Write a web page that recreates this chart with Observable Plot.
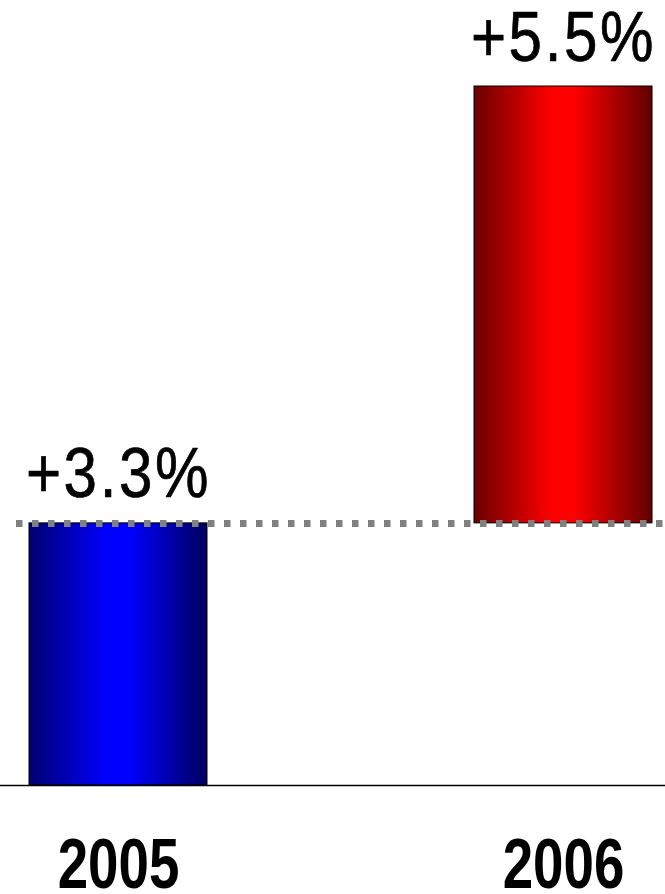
<!DOCTYPE html>
<html>
<head>
<meta charset="utf-8">
<script src="https://cdn.jsdelivr.net/npm/d3@7"></script>
<script src="https://cdn.jsdelivr.net/npm/@observablehq/plot@0.6"></script>
<style>
  html, body { margin: 0; padding: 0; background: #fff; }
  #chart svg { display: block; }
</style>
</head>
<body>
<div id="chart"></div>
<script>
// Data
const years = ["2005", "2006"];
const changes = [3.3, 5.5];
const labels = ["+3.3%", "+5.5%"];

// Waterfall rows
let acc = 0;
const rows = years.map((year, i) => {
  const start = acc;
  acc += changes[i];
  return { year, start, end: acc, label: labels[i] };
});
const total = acc;

const chart = Plot.plot({
  width: 665,
  height: 894,
  marginTop: 86,
  marginBottom: 109,
  marginLeft: 0,
  marginRight: 0,
  style: { fontFamily: "'Liberation Sans', Arial, sans-serif", background: "#fff", color: "#000" },
  x: { type: "band", domain: years, range: [28, 652], paddingInner: 0.6, paddingOuter: 0, axis: null },
  y: { domain: [0, total], nice: false, axis: null },
  marks: [
    Plot.rectY(rows.filter((d, i) => i === 0), { x: "year", y1: "start", y2: "end", fill: "url(#gradBlue)", stroke: "#000", strokeWidth: 1 }),
    Plot.rectY(rows.filter((d, i) => i === 1), { x: "year", y1: "start", y2: "end", fill: "url(#gradRed)", stroke: "#000", strokeWidth: 1 }),
    Plot.ruleY([0], { stroke: "#000", strokeWidth: 1.5 }),
    Plot.ruleY([changes[0]], { stroke: "#808080", strokeWidth: 7, strokeDasharray: "6.5,9.5", insetLeft: 16 }),
    Plot.text(rows, { x: "year", y: "end", text: "label", fontSize: 70, lineAnchor: "bottom", dy: -26, fill: "#000", stroke: "#000", strokeWidth: 0.7 }),
    Plot.axisX({ tickSize: 0, tickPadding: 52, fontSize: 71, fontWeight: "bold", label: null })
  ]
});

document.getElementById("chart").appendChild(chart);

// Gradients for cylindrical shading
const svg = d3.select(chart);
const defs = svg.insert("defs", ":first-child");
function grad(id, dark1, bright, dark2) {
  const g = defs.append("linearGradient").attr("id", id).attr("x1", "0").attr("x2", "1").attr("y1", "0").attr("y2", "0");
  g.append("stop").attr("offset", "0").attr("stop-color", dark1);
  g.append("stop").attr("offset", "0.44").attr("stop-color", bright);
  g.append("stop").attr("offset", "0.56").attr("stop-color", bright);
  g.append("stop").attr("offset", "1").attr("stop-color", dark2);
}
grad("gradBlue", "#000070", "#0000ff", "#000060");
grad("gradRed", "#6a0000", "#ff0000", "#600000");

// Letter spacing for value labels, horizontal condensing of text
chart.querySelectorAll('[aria-label="text"] text').forEach(t => t.setAttribute("letter-spacing", "3"));
chart.querySelectorAll("text").forEach(t => {
  const isAxis = !!t.closest('[aria-label="x-axis tick label"]');
  const s = isAxis ? 0.77 : 0.86;
  const tr = t.getAttribute("transform") || "";
  const x = +t.getAttribute("x") || 0;
  const y = +t.getAttribute("y") || 0;
  t.setAttribute("transform", `${tr} translate(${x},${y}) scale(${s},1) translate(${-x},${-y})`);
});
</script>
</body>
</html>
